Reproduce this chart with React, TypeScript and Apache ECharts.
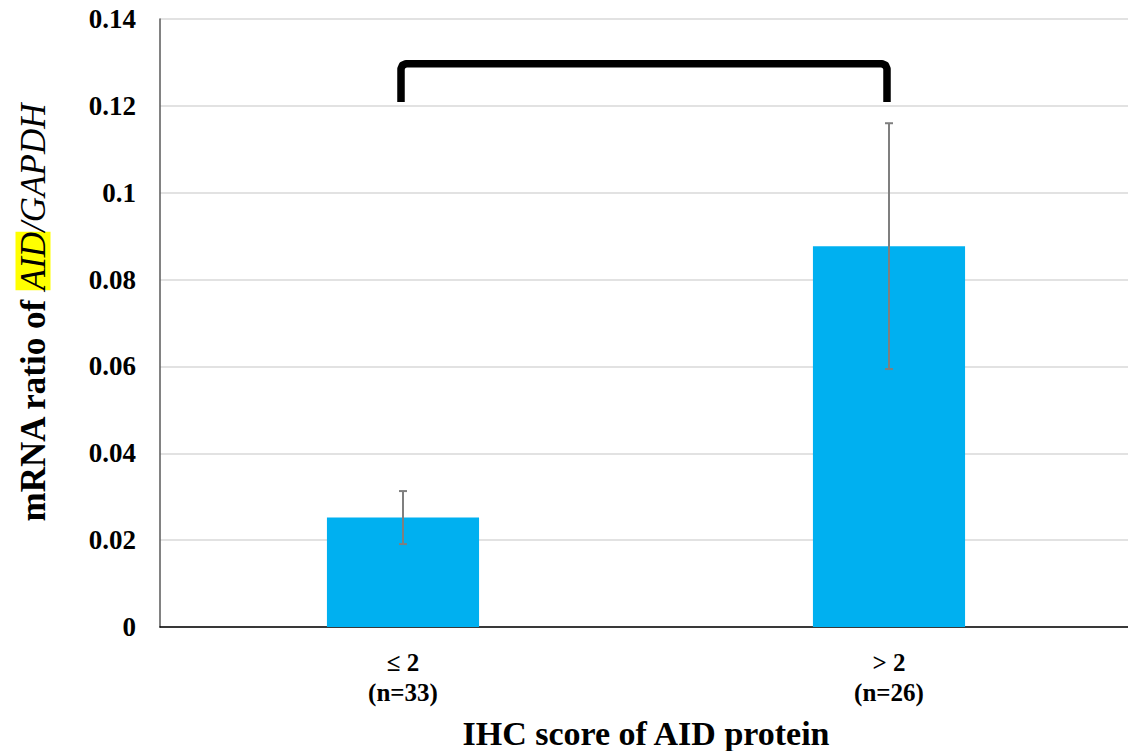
import React, { useEffect, useRef } from "react";
import * as echarts from "echarts";

const categories = ["≤ 2\n(n=33)", "> 2\n(n=26)"];
const meanValues = [0.0252, 0.0877];
const errLow = [0.0191, 0.0594];
const errHigh = [0.0313, 0.116];
const bracket = [[0, 1, 0.1209, 0.1297]];
const yTicks = { min: 0, max: 0.14, interval: 0.02 };
const yTitleParts = ["mRNA ratio of ", "AID", "/GAPDH"];
const xTitle = "IHC score of AID protein";

const FONT = "Liberation Serif";

export default function App() {
  const ref = useRef<HTMLDivElement>(null);
  useEffect(() => {
    if (!ref.current) return;
    const chart = echarts.init(ref.current, undefined, { renderer: "svg" });
    const errData = categories.map((_, i) => [i, errLow[i], errHigh[i]]);
    chart.setOption({
      animation: false,
      backgroundColor: "#ffffff",
      textStyle: { fontFamily: FONT },
      grid: {
        left: 160,
        right: -4,
        top: 19,
        bottom: 124,
        containLabel: false,
        outerBoundsMode: "none",
      },
      graphic: [
        {
          type: "text",
          x: 33,
          y: 313,
          rotation: Math.PI / 2,
          style: {
            text: `{a|${yTitleParts[0]}}{b|${yTitleParts[1]}}{c|${yTitleParts[2]}}`,
            align: "center",
            verticalAlign: "middle",
            fontFamily: FONT,
            rich: {
              a: { fontFamily: FONT, fontWeight: "bold", fontSize: 35, fill: "#000" },
              b: {
                fontFamily: FONT,
                fontStyle: "italic",
                fontWeight: "normal",
                fontSize: 35,
                fill: "#000",
                backgroundColor: "#ffff00",
              },
              c: { fontFamily: FONT, fontStyle: "italic", fontWeight: "normal", fontSize: 35, fill: "#000" },
            },
          },
        },
      ],
      xAxis: {
        type: "category",
        data: categories,
        axisLine: { lineStyle: { color: "#000", width: 1.5 } },
        axisTick: { show: false },
        axisLabel: {
          fontFamily: FONT,
          fontWeight: "bold",
          fontSize: 25,
          color: "#000",
          lineHeight: 30,
          margin: 20,
        },
        name: xTitle,
        nameLocation: "middle",
        nameGap: 106,
        nameTextStyle: {
          fontFamily: FONT,
          fontWeight: "bold",
          fontSize: 34,
          color: "#000",
          verticalAlign: "middle",
          lineHeight: 34,
        },
      },
      yAxis: {
        type: "value",
        min: yTicks.min,
        max: yTicks.max,
        interval: yTicks.interval,
        axisLine: { show: true, lineStyle: { color: "#595959", width: 1.5 } },
        axisTick: { show: false },
        splitLine: { lineStyle: { color: "#d9d9d9", width: 1.5 } },
        axisLabel: {
          fontFamily: FONT,
          fontWeight: "bold",
          fontSize: 27,
          color: "#000",
          margin: 24,
          formatter: (v: number) => String(+v.toFixed(2)),
        },
      },
      series: [
        {
          type: "bar",
          data: meanValues,
          barWidth: "31.3%",
          itemStyle: { color: "#00b0f0" },
        },
        {
          type: "custom",
          data: errData,
          encode: { x: 0, y: [1, 2] },
          z: 10,
          renderItem: (params: any, api: any) => {
            const lo = api.coord([api.value(0), api.value(1)]);
            const hi = api.coord([api.value(0), api.value(2)]);
            const hw = 4;
            const style = { stroke: "#7f7f7f", lineWidth: 2, fill: "none" };
            return {
              type: "group",
              children: [
                { type: "line", shape: { x1: lo[0], y1: lo[1], x2: hi[0], y2: hi[1] }, style },
                { type: "line", shape: { x1: lo[0] - hw, y1: lo[1], x2: lo[0] + hw, y2: lo[1] }, style },
                { type: "line", shape: { x1: hi[0] - hw, y1: hi[1], x2: hi[0] + hw, y2: hi[1] }, style },
              ],
            };
          },
        },
        {
          type: "custom",
          data: bracket,
          clip: false,
          z: 10,
          encode: { x: [0, 1], y: [2, 3] },
          renderItem: (params: any, api: any) => {
            const p1 = api.coord([api.value(0), api.value(2)]);
            const p2 = api.coord([api.value(0), api.value(3)]);
            const p3 = api.coord([api.value(1), api.value(3)]);
            const p4 = api.coord([api.value(1), api.value(2)]);
            const dx = -2;
            const r = 5;
            return {
              type: "polyline",
              shape: {
                points: [
                  [p1[0] + dx, p1[1]],
                  [p2[0] + dx, p2[1] + r],
                  [p2[0] + dx + r * 0.3, p2[1] + r * 0.3],
                  [p2[0] + dx + r, p2[1]],
                  [p3[0] + dx - r, p3[1]],
                  [p3[0] + dx - r * 0.3, p3[1] + r * 0.3],
                  [p4[0] + dx, p3[1] + r],
                  [p4[0] + dx, p4[1]],
                ],
              },
              style: { stroke: "#000", lineWidth: 7.5, fill: "none", lineJoin: "round" },
            };
          },
        },
      ],
    });
    return () => chart.dispose();
  }, []);
  return (
    <div
      ref={ref}
      style={{ position: "fixed", left: 0, top: 0, width: 1128, height: 751 }}
    />
  );
}
